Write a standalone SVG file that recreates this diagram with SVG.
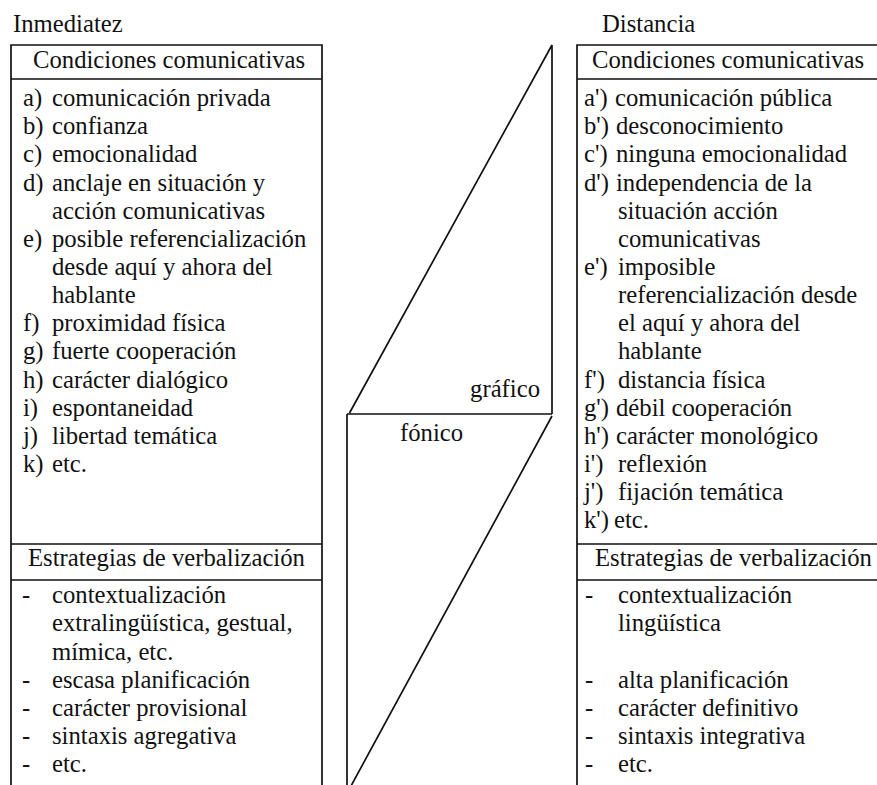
<svg xmlns="http://www.w3.org/2000/svg" width="877" height="785" viewBox="0 0 877 785" font-family="'Liberation Serif', 'Times New Roman', Times, 'DejaVu Serif', serif">
<style>
text{font-family:'Liberation Serif','Times New Roman',Times,'DejaVu Serif',serif;font-size:24.7px;fill:#111}
.ln{stroke:#111;stroke-width:1.7;fill:none}
</style>
<rect width="877" height="785" fill="#fff"/>
<g id="inmediatez">
<text x="13" y="32">Inmediatez</text>
<path class="ln" d="M11,800 V45 H322 V800 M11,79 H322 M11,544 H322 M11,580 H322"/>
<text x="33" y="68">Condiciones comunicativas</text>
<g>
<text x="23" y="106">a)</text><text x="52" y="106">comunicación privada</text>
<text x="23" y="134.2">b)</text><text x="52" y="134.2">confianza</text>
<text x="23" y="162.3">c)</text><text x="52" y="162.3">emocionalidad</text>
<text x="23" y="190.5">d)</text><text x="52" y="190.5">anclaje en situación y</text>
<text x="52" y="218.6">acción comunicativas</text>
<text x="23" y="246.8">e)</text><text x="52" y="246.8">posible referencialización</text>
<text x="52" y="274.9">desde aquí y ahora del</text>
<text x="52" y="303">hablante</text>
<text x="23" y="331.2">f)</text><text x="52" y="331.2">proximidad física</text>
<text x="23" y="359.4">g)</text><text x="52" y="359.4">fuerte cooperación</text>
<text x="23" y="387.5">h)</text><text x="52" y="387.5">carácter dialógico</text>
<text x="23" y="415.7">i)</text><text x="52" y="415.7">espontaneidad</text>
<text x="23" y="443.8">j)</text><text x="52" y="443.8">libertad temática</text>
<text x="23" y="472">k)</text><text x="52" y="472">etc.</text>
</g>
<text x="28" y="566">Estrategias de verbalización</text>
<g>
<text x="22" y="603">-</text><text x="52" y="603">contextualización</text>
<text x="52" y="631">extralingüística, gestual,</text>
<text x="52" y="659.5">mímica, etc.</text>
<text x="22" y="688">-</text><text x="52" y="688">escasa planificación</text>
<text x="22" y="716">-</text><text x="52" y="716">carácter provisional</text>
<text x="22" y="744">-</text><text x="52" y="744">sintaxis agregativa</text>
<text x="22" y="772">-</text><text x="52" y="772">etc.</text>
</g>
</g>
<g id="medio">
<path class="ln" d="M552,45 V414 M552,45 L349.5,413 M347,414 H552 M347,414 V800 M552,416 L351,786"/>
<text x="540" y="397" text-anchor="end">gráfico</text>
<text x="400" y="441">fónico</text>
</g>
<g id="distancia">
<text x="602" y="32">Distancia</text>
<path class="ln" d="M577,800 V45 H890 M577,79 H890 M577,544 H890 M577,580 H890"/>
<text x="592" y="68">Condiciones comunicativas</text>
<g>
<text x="584" y="106">a')</text><text x="615" y="106">comunicación pública</text>
<text x="584" y="134.2">b')</text><text x="616" y="134.2">desconocimiento</text>
<text x="584" y="162.3">c')</text><text x="616" y="162.3">ninguna emocionalidad</text>
<text x="584" y="190.5">d')</text><text x="616" y="190.5">independencia de la</text>
<text x="618" y="218.6">situación acción</text>
<text x="618" y="246.8">comunicativas</text>
<text x="584" y="274.9">e')</text><text x="618" y="274.9">imposible</text>
<text x="618" y="303">referencialización desde</text>
<text x="618" y="331.2">el aquí y ahora del</text>
<text x="618" y="359.4">hablante</text>
<text x="584" y="387.5">f')</text><text x="618" y="387.5">distancia física</text>
<text x="584" y="415.7">g')</text><text x="616" y="415.7">débil cooperación</text>
<text x="584" y="443.8">h')</text><text x="616" y="443.8">carácter monológico</text>
<text x="584" y="472">i')</text><text x="618" y="472">reflexión</text>
<text x="584" y="500">j')</text><text x="618" y="500">fijación temática</text>
<text x="584" y="528.2">k')</text><text x="614" y="528.2">etc.</text>
</g>
<text x="595" y="566">Estrategias de verbalización</text>
<g>
<text x="585" y="603">-</text><text x="618" y="603">contextualización</text>
<text x="618" y="631">lingüística</text>
<text x="585" y="688">-</text><text x="618" y="688">alta planificación</text>
<text x="585" y="716">-</text><text x="618" y="716">carácter definitivo</text>
<text x="585" y="744">-</text><text x="618" y="744">sintaxis integrativa</text>
<text x="585" y="772">-</text><text x="618" y="772">etc.</text>
</g>
</g>
</svg>
